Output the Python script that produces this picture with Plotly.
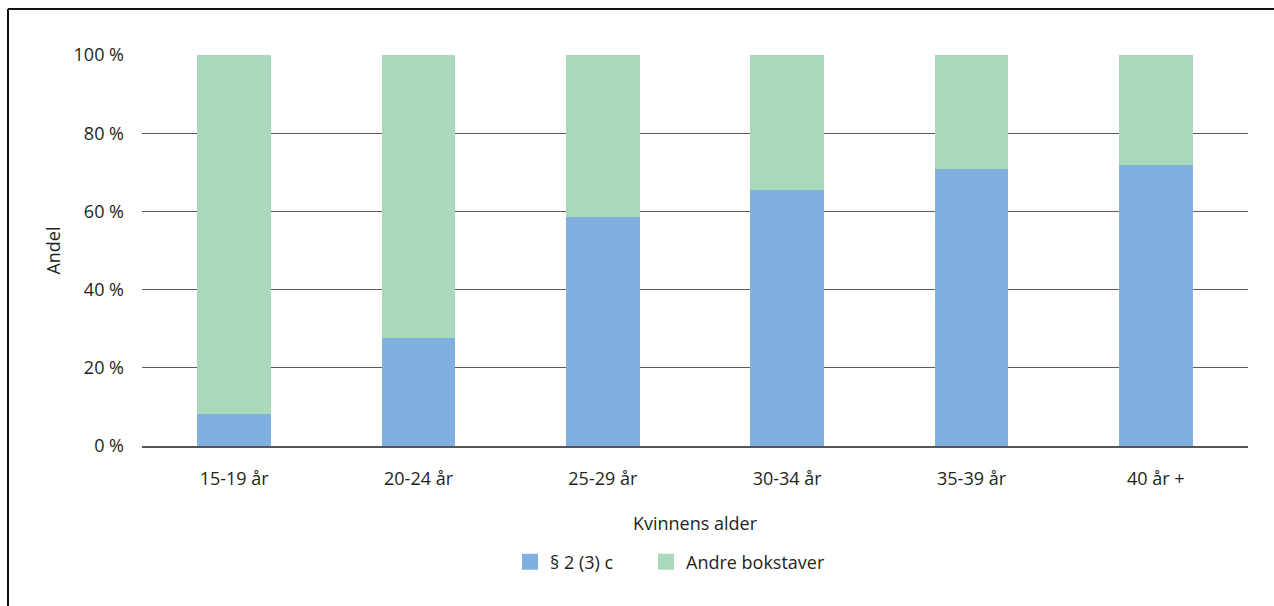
import plotly.graph_objects as go

categories = ["15-19 år", "20-24 år", "25-29 år", "30-34 år", "35-39 år", "40 år +"]
paragraf_c = [8.2, 27.6, 58.6, 65.5, 70.8, 71.9]
andre = [100 - v for v in paragraf_c]
series_names = ["§ 2 (3) c", "Andre bokstaver"]
y_ticks = [0, 20, 40, 60, 80, 100]
y_tick_labels = ["0 %", "20 %", "40 %", "60 %", "80 %", "100 %"]

BLUE = "#80b0e0"
GREEN = "#aad8bd"
FONT = "Open Sans"

fig = go.Figure()
fig.add_trace(go.Bar(x=categories, y=paragraf_c, name=series_names[0],
                     marker=dict(color=BLUE, line=dict(width=0)), showlegend=False))
fig.add_trace(go.Bar(x=categories, y=andre, name=series_names[1],
                     marker=dict(color=GREEN, line=dict(width=0)), showlegend=False))
# legend entries with larger square swatches, each in its own legend box
for name, col, lg in zip(series_names, [BLUE, GREEN], ["legend", "legend2"]):
    fig.add_trace(go.Scatter(x=[None], y=[None], mode="markers", name=name,
                             legend=lg,
                             marker=dict(symbol="square", size=16, color=col)))

W, H = 1274, 606
L, R, T, B = 142, 26, 55, 160
pw, ph = W - L - R, H - T - B

def px2paper_x(px):
    return (px - L) / pw

def px2paper_y(py):
    return (H - B - py) / ph

legend_common = dict(orientation="h", xanchor="left",
                     y=px2paper_y(562), yanchor="middle",
                     font=dict(size=18), itemwidth=30)

fig.update_layout(
    width=W, height=H,
    margin=dict(l=L, r=R, t=T, b=B, autoexpand=False),
    barmode="stack",
    bargap=0.6,
    plot_bgcolor="white",
    paper_bgcolor="white",
    font=dict(family=FONT, size=18, color="#231f20"),
    showlegend=True,
    legend=dict(x=px2paper_x(510), **legend_common),
    legend2=dict(x=px2paper_x(646), **legend_common),
    xaxis=dict(
        showgrid=False, showline=True, linecolor="#555555", linewidth=1.5,
        ticks="", ticklabelstandoff=16,
        title=dict(text="Kvinnens alder", standoff=28, font=dict(size=18)),
    ),
    yaxis=dict(
        range=[0, 100], tickvals=y_ticks, ticktext=y_tick_labels,
        showgrid=True, gridcolor="#5a5a5a", gridwidth=1,
        zeroline=False, showline=False, ticks="", ticklabelstandoff=17,
        title=dict(text="Andel", standoff=8, font=dict(size=18)),
    ),
    shapes=[
        dict(type="line", xref="paper", yref="paper",
             x0=px2paper_x(8), x1=px2paper_x(1300),
             y0=px2paper_y(9), y1=px2paper_y(9),
             line=dict(color="#111111", width=2)),
        dict(type="line", xref="paper", yref="paper",
             x0=px2paper_x(8), x1=px2paper_x(8),
             y0=px2paper_y(9), y1=px2paper_y(640),
             line=dict(color="#111111", width=2)),
    ],
)

fig.write_html("out.html")
